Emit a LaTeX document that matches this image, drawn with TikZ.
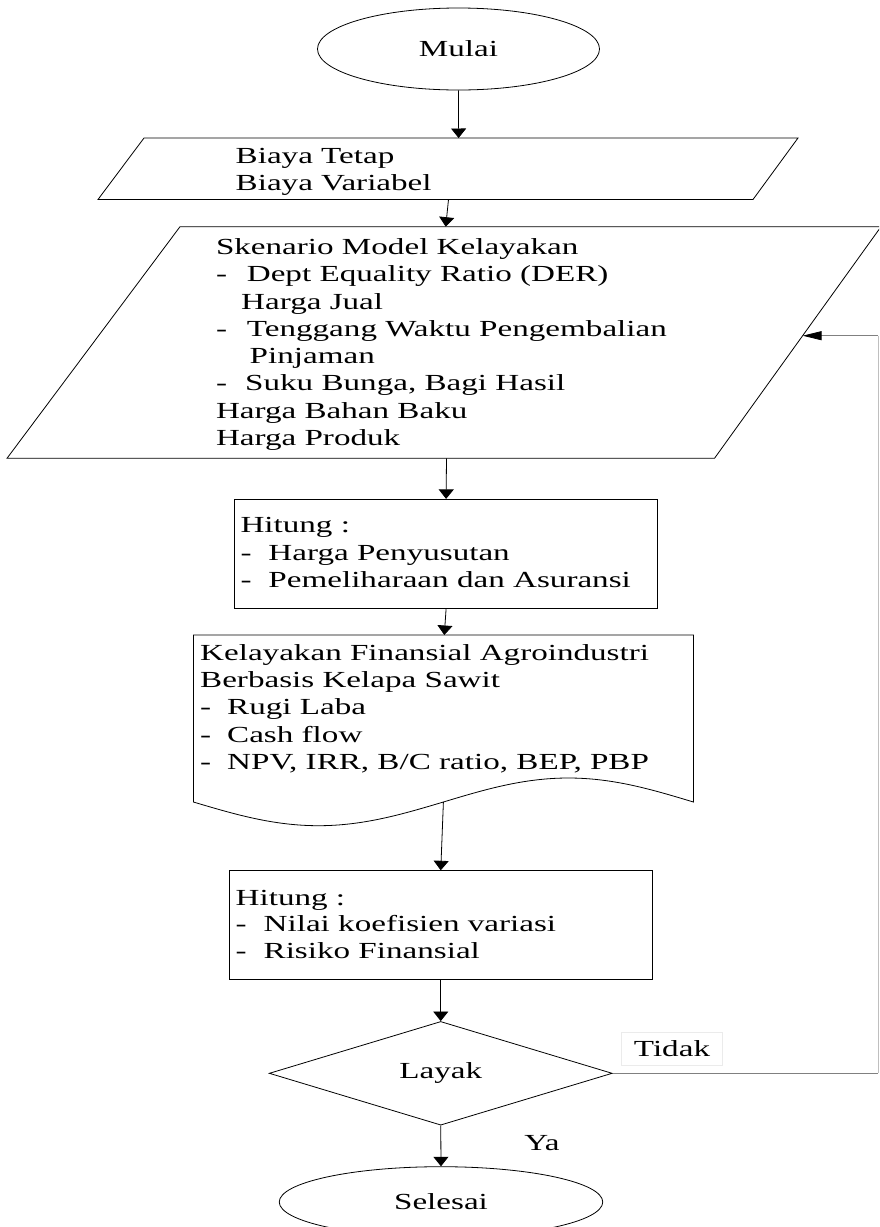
\documentclass[tikz,border=0pt]{standalone}
\usepackage{fontspec}
\setmainfont{Liberation Serif}[FakeStretch=1.44]
\usetikzlibrary{shapes.geometric,arrows.meta}

\tikzset{
  outline/.style={draw=black, line width=0.8pt},
  flow/.style={draw=black, line width=0.8pt, -{Triangle[length=9.5pt,width=15pt]}},
  loopline/.style={line width=0.8pt, draw=black!50},
  lbl/.style={font=\fontsize{23pt}{27.3pt}\selectfont, inner sep=0pt},
  % multi-line blocks are placed by the baseline of their last line
  block/.style={lbl, align=left, anchor=base west},
}
% hanging dash for list items
\newcommand{\dl}[2]{\makebox[#1][l]{-}#2}

\begin{document}
\begin{tikzpicture}[x=1pt,y=-1pt]
\useasboundingbox (0,0) rectangle (879,1227);
\clip (0,0) rectangle (879,1227);
\fill[white] (0,0) rectangle (879,1227);

% start
\node[ellipse, outline, minimum width=282pt, minimum height=82pt, lbl] (start) at (458.5,49) {Mulai};

% input: costs
\draw[outline] (144,138) -- (798,138) -- (753,199.5) -- (98,199.5) -- cycle;
\coordinate (p1top) at (458.6,138);
\coordinate (p1bot) at (448.5,199.5);
\node[block] (p1text) at (235.5,190.5) {Biaya Tetap\\Biaya Variabel};

% input: scenario
\draw[outline] (180,226.7) -- (881,226.7) -- (714.5,458.3) -- (7,458.3) -- cycle;
\coordinate (p2top) at (445.7,226.7);
\coordinate (p2bot) at (446.5,458.3);
\coordinate (p2fb) at (802.6,335.7);
\node[block] (p2text) at (215.8,445.5) {Skenario Model Kelayakan\\
\dl{30.9pt}{Dept Equality Ratio (DER)}\\
\hspace*{25.2pt}Harga Jual\\
\dl{30.9pt}{Tenggang Waktu Pengembalian}\\
\hspace*{33.7pt}Pinjaman\\
\dl{29.2pt}{Suku Bunga, Bagi Hasil}\\
Harga Bahan Baku\\
Harga Produk};

% process 1
\node[outline, minimum width=423.2pt, minimum height=109pt, inner sep=0pt] (calc1) at (446.1,553.8) {};
\node[block] (calc1text) at (240.3,587.5) {Hitung :\\
\dl{28pt}{Harga Penyusutan}\\
\dl{28pt}{Pemeliharaan dan Asuransi}};

% document: financial feasibility
\draw[outline] (193.4,635) -- (693.4,635) -- (693.4,802)
  sin (568.4,778) cos (443.4,802) sin (318.4,825.7) cos (193.4,802) -- cycle;
\coordinate (doctop) at (444.3,635);
\coordinate (docbot) at (443.4,802);
\node[block] (doctext) at (200,769.5) {Kelayakan Finansial Agroindustri\\
Berbasis Kelapa Sawit\\
\dl{27pt}{Rugi Laba}\\
\dl{27pt}{Cash flow}\\
\dl{27pt}{NPV, IRR, B/C ratio, BEP, PBP}};

% process 2
\node[outline, minimum width=423.5pt, minimum height=108.6pt, inner sep=0pt] (calc2) at (440.75,925) {};
\node[block, font=\fontsize{23pt}{26.7pt}\selectfont] (calc2text) at (235.5,958.5) {Hitung :\\
\dl{28pt}{Nilai koefisien variasi}\\
\dl{28pt}{Risiko Finansial}};

% decision
\node[diamond, outline, minimum width=343pt, minimum height=103.4pt, lbl] (check) at (440.75,1073.3) {Layak};

% end
\node[ellipse, outline, minimum width=323.5pt, minimum height=70.6pt, lbl] (stop) at (441,1202) {Selesai};

% branch labels
\node[lbl, draw=black!8, minimum width=101pt, minimum height=33pt] (no) at (672,1048.3) {Tidak};
\node[lbl] (yes) at (542,1143.3) {Ya};

% main flow
\draw[flow] (start.south) -- (p1top);
\draw[flow] (p1bot) -- (p2top);
\draw[flow] (p2bot) -- (calc1.north);
\draw[flow] (calc1.south) -- (doctop);
\draw[flow] (docbot) -- (calc2.north);
\draw[flow] (calc2.south) -- (check.north);
\draw[flow] (check.south) -- (stop.north);

% loop back when not feasible
\coordinate (fb1) at (878,1073.3);
\coordinate (fb2) at (878,335.7);
\draw[loopline] (check.east) -- (fb1);
\draw[loopline, draw=black!25] (fb1) -- (fb2);
\draw[loopline, -{Triangle[length=19pt,width=9pt,color=black]}] (fb2) -- (p2fb);
\end{tikzpicture}
\end{document}
